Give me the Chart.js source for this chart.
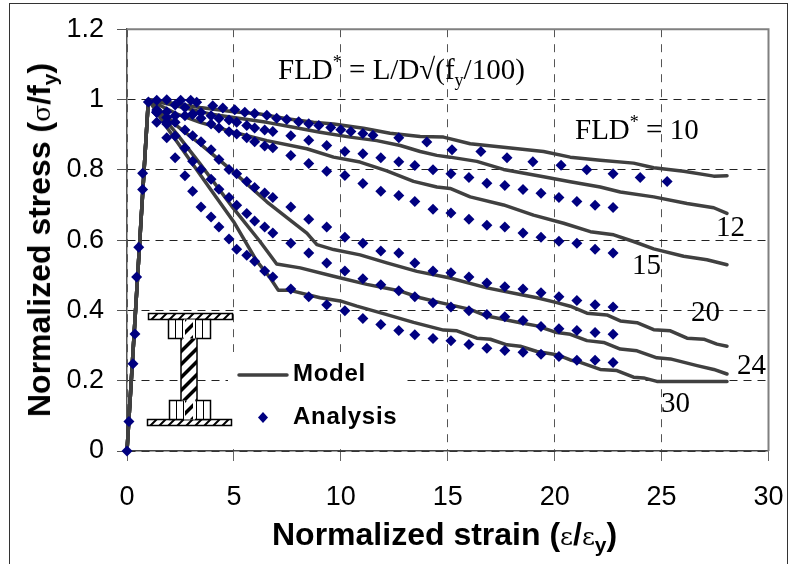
<!DOCTYPE html>
<html>
<head>
<meta charset="utf-8">
<style>
  html, body { margin: 0; padding: 0; background: #fff; }
  #wrap { position: relative; width: 791px; height: 564px; overflow: hidden; }
  #frame { position: absolute; left: 9px; top: 3px; width: 777px; height: 570px; border: 1.5px solid #333; }
  canvas { position: absolute; left: 0; top: 0; }
  .lbl { position: absolute; white-space: nowrap; color: #000; font-family: "Liberation Serif", serif; font-size: 29px; line-height: 1; }
  .lbl sup, .lbl sub { font-size: 18px; line-height: 0; }
  .title { position: absolute; white-space: nowrap; color: #000; font-family: "Liberation Sans", sans-serif; font-weight: bold; font-size: 32px; line-height: 1; }
  .title sub { font-size: 21px; line-height: 0; }
  .title i { font-family: "DejaVu Serif", serif; font-style: normal; font-weight: normal; font-size: 25px; }
  .leg { position: absolute; white-space: nowrap; color: #000; font-family: "Liberation Sans", sans-serif; font-weight: bold; font-size: 24px; letter-spacing: 0.7px; line-height: 1; }
</style>
</head>
<body>
<div id="wrap">
  <div id="frame"></div>
  <canvas id="chart" width="791" height="564"></canvas>
  <div class="lbl" style="left:278px;top:55px">FLD<sup>*</sup> = L/D√(f<sub>y</sub>/100)</div>
  <div class="lbl" style="left:575px;top:115px">FLD<sup>*</sup> = 10</div>
  <div class="lbl" style="left:716px;top:212px">12</div>
  <div class="lbl" style="left:632px;top:250px">15</div>
  <div class="lbl" style="left:691px;top:297px">20</div>
  <div class="lbl" style="left:737px;top:350px">24</div>
  <div class="lbl" style="left:661px;top:388px">30</div>
  <div class="title" style="left:272px;top:518px">Normalized strain (<i>ε</i>/<i>ε</i><sub>y</sub>)</div>
  <div class="title" style="left:39px;top:240px;transform:translate(-50%,-50%) rotate(-90deg);">Normalized stress (<i>σ</i>/f<sub>y</sub>)</div>
  <div class="leg" style="left:293px;top:361px">Model</div>
  <div class="leg" style="left:293px;top:404px">Analysis</div>
</div>

<script src="https://cdn.jsdelivr.net/npm/chart.js@4/dist/chart.umd.min.js"></script>
<script>
// x tick and y tick labels
const xTickLabels = ['0', '5', '10', '15', '20', '25', '30'];
const yTickLabels = ['0', '0.2', '0.4', '0.6', '0.8', '1', '1.2'];

// --- model curves ---
const model10X = [0, 1, 1.86, 3.42, 4.98, 6.22, 7.47, 8.72, 9.66, 11.06, 12.3, 13.71, 14.8, 16.05, 17.61, 19.48, 20.73, 22.13, 23.69, 24.63, 26.03, 27.44, 28.06];
const model10Y = [0, 1, 0.992, 0.977, 0.965, 0.959, 0.945, 0.935, 0.93, 0.918, 0.904, 0.895, 0.893, 0.874, 0.864, 0.852, 0.836, 0.827, 0.819, 0.806, 0.796, 0.782, 0.783];
const model12X = [0, 1, 2.64, 3.88, 4.98, 6.54, 7.78, 9.03, 10.44, 11.68, 12.78, 13.71, 14.49, 15.11, 16.36, 17.61, 19.48, 20.73, 22.13, 23.07, 24.63, 26.19, 27.44, 28.06];
const model12Y = [0, 1, 0.977, 0.959, 0.949, 0.935, 0.921, 0.907, 0.893, 0.883, 0.869, 0.852, 0.841, 0.836, 0.824, 0.801, 0.78, 0.766, 0.751, 0.737, 0.723, 0.704, 0.692, 0.676];
const model15X = [0, 1, 2.32, 3.42, 4.98, 6.54, 8.41, 9.66, 10.9, 12.15, 13.4, 14.49, 15.11, 16.05, 17.61, 19.01, 20.42, 21.67, 22.76, 23.69, 24.63, 26.03, 27.12, 28.06];
const model15Y = [0, 1, 0.959, 0.935, 0.907, 0.883, 0.86, 0.836, 0.822, 0.797, 0.767, 0.751, 0.747, 0.723, 0.7, 0.671, 0.648, 0.624, 0.615, 0.596, 0.575, 0.554, 0.544, 0.53];
const model20X = [0, 1, 2.32, 3.42, 4.98, 6.54, 7.63, 8.41, 8.88, 9.66, 10.9, 12.15, 13.56, 15.11, 16.83, 18.39, 19.17, 20.1, 20.73, 21.51, 22.44, 23.07, 23.85, 24.63, 25.41, 26.19, 26.97, 27.59, 28.06];
const model20Y = [0, 1, 0.926, 0.874, 0.794, 0.709, 0.657, 0.62, 0.587, 0.573, 0.558, 0.535, 0.511, 0.492, 0.464, 0.445, 0.436, 0.422, 0.412, 0.392, 0.387, 0.37, 0.365, 0.345, 0.342, 0.321, 0.318, 0.304, 0.298];
const model24X = [0, 1, 2.32, 3.42, 4.98, 6.22, 7, 8.1, 9.66, 11.22, 12.78, 13.71, 14.65, 16.05, 16.83, 18.39, 19.17, 20.1, 20.73, 21.51, 22.29, 23.07, 23.85, 24.78, 25.41, 26.66, 27.44, 28.06];
const model24Y = [0, 1, 0.903, 0.817, 0.69, 0.596, 0.532, 0.521, 0.497, 0.474, 0.455, 0.436, 0.422, 0.403, 0.384, 0.365, 0.356, 0.337, 0.332, 0.314, 0.309, 0.29, 0.285, 0.265, 0.262, 0.243, 0.232, 0.219];
const model30X = [0, 1, 1.86, 2.79, 3.88, 4.98, 6.07, 6.69, 7.08, 7.63, 9.03, 9.97, 10.75, 11.99, 13.4, 14.8, 15.43, 16.36, 16.99, 17.77, 18.39, 19.17, 20.1, 20.73, 21.2, 22.13, 22.91, 23.69, 24.16, 24.78, 28.06];
const model30Y = [0, 1, 0.921, 0.841, 0.747, 0.653, 0.54, 0.493, 0.457, 0.457, 0.436, 0.427, 0.412, 0.391, 0.366, 0.344, 0.342, 0.321, 0.318, 0.302, 0.298, 0.283, 0.274, 0.259, 0.252, 0.232, 0.229, 0.21, 0.208, 0.198, 0.198];

// --- analysis diamonds ---
const riseX = [0, 0.09, 0.28, 0.37, 0.45, 0.55, 0.73, 0.73, 1.0];
const riseY = [0, 0.084, 0.248, 0.333, 0.495, 0.58, 0.744, 0.79, 0.993];
const analysis10X = [1.39, 1.86, 2.51, 2.98, 3.26, 4.01, 4.48, 5.04, 5.51, 5.97, 6.54, 7, 7.47, 8.03, 8.5, 8.97, 9.53, 10, 10.47, 11.03, 11.5, 12.71, 14.02, 15.2, 16.55, 17.77, 18.98, 20.3, 21.5, 22.73, 24, 25.26];
const analysis10Y = [0.998, 0.999, 0.998, 0.998, 0.992, 0.982, 0.976, 0.971, 0.964, 0.96, 0.955, 0.947, 0.943, 0.937, 0.931, 0.926, 0.92, 0.914, 0.909, 0.903, 0.898, 0.891, 0.879, 0.857, 0.852, 0.834, 0.823, 0.813, 0.8, 0.789, 0.778, 0.767];
const analysisX = [1.39, 1.86, 2.25, 2.71, 3.07, 3.46, 3.93, 4.3, 4.77, 5.13, 5.6, 5.97, 6.44, 6.82, 7.66, 8.5, 9.34, 10.19, 11.03, 11.87, 12.71, 13.46, 14.31, 15.15, 15.99, 16.83, 17.67, 18.52, 19.36, 20.2, 21.04, 21.89, 22.73];
const analysis12Y = [0.97, 0.965, 0.984, 0.977, 0.959, 0.963, 0.954, 0.946, 0.942, 0.935, 0.926, 0.919, 0.913, 0.909, 0.897, 0.884, 0.869, 0.852, 0.846, 0.834, 0.823, 0.812, 0.8, 0.789, 0.778, 0.762, 0.755, 0.744, 0.733, 0.721, 0.71, 0.699, 0.693];
const analysis15Y = [0.963, 0.949, 0.954, 0.954, 0.957, 0.947, 0.93, 0.919, 0.908, 0.902, 0.891, 0.88, 0.868, 0.863, 0.841, 0.818, 0.796, 0.784, 0.761, 0.739, 0.727, 0.71, 0.688, 0.677, 0.659, 0.642, 0.637, 0.62, 0.608, 0.597, 0.591, 0.574, 0.563];
const analysis20Y = [0.963, 0.935, 0.935, 0.913, 0.897, 0.88, 0.857, 0.829, 0.801, 0.789, 0.767, 0.75, 0.734, 0.721, 0.694, 0.659, 0.637, 0.608, 0.591, 0.569, 0.563, 0.535, 0.512, 0.507, 0.495, 0.478, 0.467, 0.461, 0.45, 0.439, 0.428, 0.416, 0.41];
const analysis24Y = [0.935, 0.93, 0.896, 0.862, 0.824, 0.801, 0.773, 0.745, 0.721, 0.699, 0.676, 0.654, 0.637, 0.62, 0.591, 0.563, 0.535, 0.512, 0.49, 0.473, 0.456, 0.439, 0.422, 0.41, 0.399, 0.388, 0.382, 0.371, 0.354, 0.348, 0.343, 0.337, 0.332];
const analysis30Y = [0.965, 0.891, 0.834, 0.783, 0.739, 0.694, 0.666, 0.637, 0.603, 0.574, 0.557, 0.54, 0.512, 0.495, 0.461, 0.439, 0.416, 0.399, 0.377, 0.36, 0.343, 0.331, 0.32, 0.314, 0.303, 0.292, 0.286, 0.281, 0.275, 0.269, 0.258, 0.258, 0.252];

const lineColor = '#404040';
const diamondColor = '#000080';

function pts(xs, ys) {
    return xs.map((x, i) => ({ x: x, y: ys[i] }));
}
function modelSet(label, xs, ys) {
    return { label: label, data: pts(xs, ys), showLine: true, borderColor: lineColor, borderWidth: 3.5,
             pointRadius: 0, tension: 0, order: 2, borderCapStyle: 'round', borderJoinStyle: 'round', clip: false };
}
function analysisSet(label, xs, ys) {
    return { label: label, data: pts(xs, ys), showLine: false, backgroundColor: diamondColor, borderColor: diamondColor,
             pointStyle: 'rectRot', pointRadius: 5.5, pointBorderWidth: 0, order: 1, clip: false };
}

// white box behind the legend, plot outline, legend samples and the hatched I section
const sketchPlugin = {
    id: 'sketch',
    beforeDatasetsDraw(chart) {
        const c = chart.ctx;
        const a = chart.chartArea;
        c.save();
        c.strokeStyle = '#808080';
        c.lineWidth = 2;
        c.beginPath(); c.moveTo(a.left, a.top); c.lineTo(a.right, a.top); c.lineTo(a.right, a.bottom); c.stroke();
        c.fillStyle = '#fff';
        c.fillRect(228, 352, 178, 91);
        c.restore();
    },
    afterDatasetsDraw(chart) {
        const c = chart.ctx;
        c.save();
        c.strokeStyle = lineColor;
        c.lineWidth = 3.5;
        c.lineCap = 'round';
        c.beginPath(); c.moveTo(239, 375); c.lineTo(287, 375); c.stroke();
        c.fillStyle = diamondColor;
        c.beginPath(); c.moveTo(263, 412); c.lineTo(268, 417.5); c.lineTo(263, 423); c.lineTo(258, 417.5); c.closePath(); c.fill();
        drawBeam(c);
        c.restore();
    }
};

function hatch(c, x, y, w, h, step, lw) {
    c.save();
    c.beginPath(); c.rect(x, y, w, h); c.clip();
    c.strokeStyle = '#000';
    c.lineWidth = lw;
    for (let i = -h - step; i < w + step; i += step) {
        c.beginPath(); c.moveTo(x + i, y + h); c.lineTo(x + i + h, y); c.stroke();
    }
    c.restore();
}
function drawBeam(c) {
    c.fillStyle = '#fff';
    c.strokeStyle = '#000';
    c.lineWidth = 1.5;
    // flanges
    [[148.5, 313.5, 84, 6], [147.5, 419.5, 84, 6]].forEach(f => {
        c.fillRect(f[0], f[1], f[2], f[3]);
        hatch(c, f[0], f[1], f[2], f[3], 9, 2);
        c.strokeRect(f[0], f[1], f[2], f[3]);
    });
    // stiffener plates
    [[168.5, 319.5, 42, 19], [169.5, 400.5, 41, 19]].forEach(s => {
        c.fillRect(s[0], s[1], s[2], s[3]);
        c.strokeRect(s[0], s[1], s[2], s[3]);
        c.lineWidth = 1;
        c.beginPath();
        [7, 14, 27, 34].forEach(d => { c.moveTo(s[0] + d, s[1]); c.lineTo(s[0] + d, s[1] + s[3]); });
        c.stroke();
        c.lineWidth = 1.5;
    });
    // web
    c.fillStyle = '#fff';
    c.fillRect(184, 319.5, 11, 100);
    c.fillRect(181, 338.5, 16, 62);
    hatch(c, 185, 319.5, 8, 19, 13, 3.5);
    hatch(c, 181, 338.5, 16, 62, 13, 3.5);
    hatch(c, 185, 400.5, 8, 19, 13, 3.5);
    c.beginPath();
    c.moveTo(181, 338.5); c.lineTo(181, 400.5);
    c.moveTo(197, 338.5); c.lineTo(197, 400.5);
    c.stroke();
}

new Chart(document.getElementById('chart'), {
    type: 'scatter',
    data: {
        datasets: [
            analysisSet('Analysis', riseX, riseY),
            analysisSet('Analysis 10', analysis10X, analysis10Y),
            analysisSet('Analysis 12', analysisX, analysis12Y),
            analysisSet('Analysis 15', analysisX, analysis15Y),
            analysisSet('Analysis 20', analysisX, analysis20Y),
            analysisSet('Analysis 24', analysisX, analysis24Y),
            analysisSet('Analysis 30', analysisX, analysis30Y),
            modelSet('Model 10', model10X, model10Y),
            modelSet('Model 12', model12X, model12Y),
            modelSet('Model 15', model15X, model15Y),
            modelSet('Model 20', model20X, model20Y),
            modelSet('Model 24', model24X, model24Y),
            modelSet('Model 30', model30X, model30Y)
        ]
    },
    plugins: [sketchPlugin],
    options: {
        responsive: false,
        animation: false,
        layout: { padding: { left: 0, top: 27, right: 22.5, bottom: 0 } },
        plugins: { legend: { display: false }, tooltip: { enabled: false } },
        scales: {
            x: {
                type: 'linear', min: 0, max: 30,
                afterFit(scale) { scale.height = 113; },
                border: { display: true, color: '#444', width: 1.5, dash: [8, 7] },
                grid: { color: '#555', lineWidth: 1, tickLength: 10, tickColor: '#666', tickBorderDash: [] },
                ticks: {
                    stepSize: 5, maxRotation: 0, padding: 5, color: '#000',
                    // tall line height pushes the labels down without widening the right padding
                    font: { family: "'Liberation Sans'", size: 27, lineHeight: 2.3 },
                    callback: (v, i) => xTickLabels[i]
                }
            },
            y: {
                type: 'linear', min: 0, max: 1.2,
                afterFit(scale) { scale.width = 127; },
                border: { display: true, color: '#555', width: 1.5, dash: [8, 6] },
                grid: { color: '#222', lineWidth: 1, tickLength: 10, tickColor: '#555', tickBorderDash: [] },
                ticks: {
                    stepSize: 0.2, padding: 13, color: '#000',
                    font: { family: "'Liberation Sans'", size: 27 },
                    callback: (v, i) => yTickLabels[i]
                }
            }
        }
    }
});
</script>
</body>
</html>
